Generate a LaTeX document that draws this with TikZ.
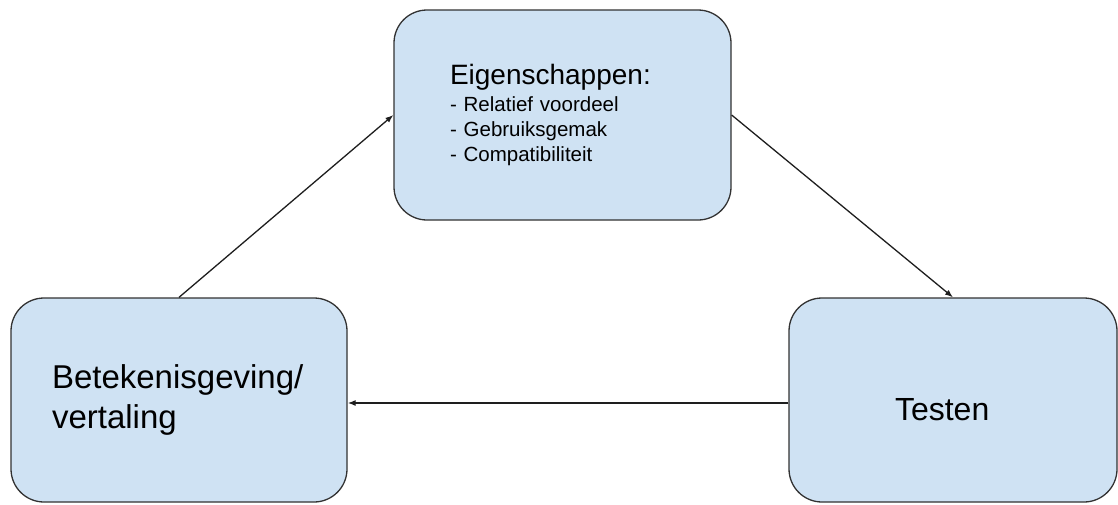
\documentclass[tikz,border=0pt]{standalone}
\usepackage{fontspec}
\setmainfont{Liberation Sans}
\usetikzlibrary{arrows.meta, positioning}
\definecolor{boxblue}{RGB}{207,226,243}
\definecolor{boxedge}{RGB}{50,50,50}
\definecolor{arrgray}{RGB}{30,30,30}
\tikzset{
  basebox/.style={rectangle,rounded corners=33pt,draw=boxedge,fill=boxblue,line width=1.3pt,inner sep=0pt},
  propbox/.style={basebox,minimum width=337pt,minimum height=210pt,text width=225pt,align=left,font=\fontsize{20.5}{25}\selectfont},
  meanbox/.style={basebox,minimum width=336pt,minimum height=204pt,text width=254pt,align=left,font=\fontsize{33}{40}\selectfont},
  testbox/.style={basebox,minimum width=328pt,minimum height=204pt,text width=116pt,text height=40pt,text depth=0pt,align=left,font=\fontsize{32}{38}\selectfont},
  arr/.style={-{Latex[length=8pt,width=6pt]},line width=1.3pt,color=arrgray}
}

\begin{document}
\begin{tikzpicture}[x=1pt,y=-1pt]
  \useasboundingbox (0,0) rectangle (1118,504);

  \node[propbox] (eig) at (562.5,115) {{\fontsize{28}{34}\selectfont Eigenschappen:}\\[2pt]
    - Relatief voordeel\\ - Gebruiksgemak\\ - Compatibiliteit};
  \node[meanbox] (bet) at (179,400) {Betekenisgeving/\\vertaling};
  \node[testbox] (tst) at (953,400) {Testen};

  %% cycle
  \draw[arr] (bet.north) -- (eig.west);
  \draw[arr] (eig.east) -- (tst.north);
  \draw[arr] ([yshift=-3pt]tst.west) -- ([yshift=-3pt]bet.east);
\end{tikzpicture}
\end{document}
